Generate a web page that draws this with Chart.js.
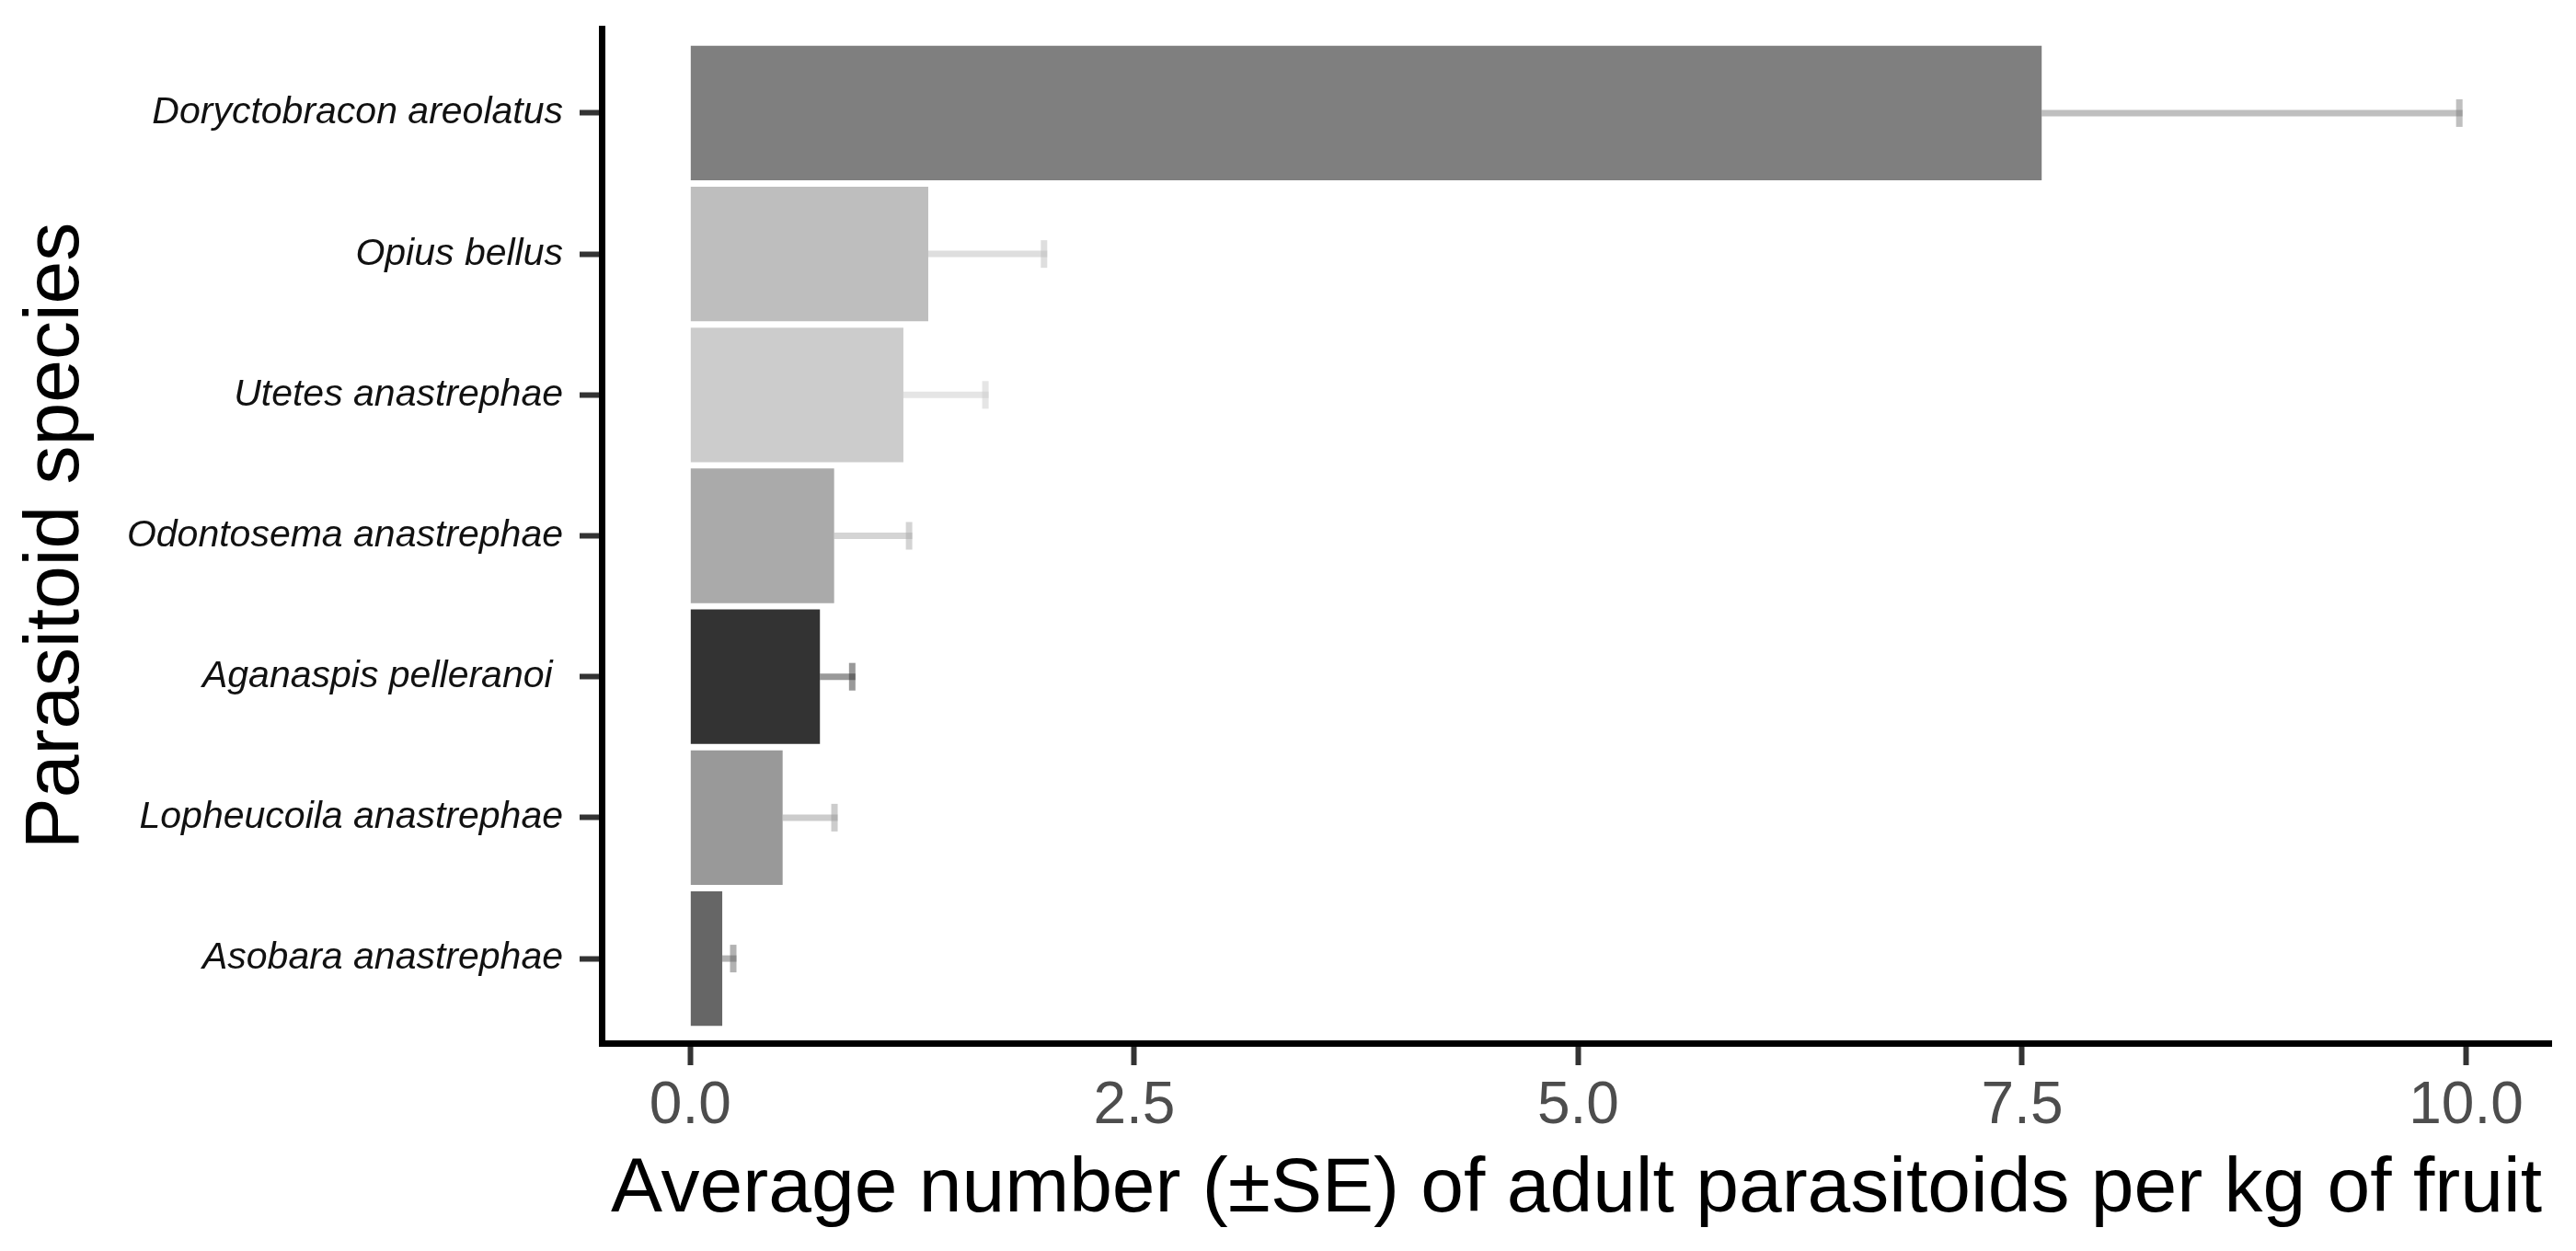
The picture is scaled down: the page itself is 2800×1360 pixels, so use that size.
<!DOCTYPE html>
<html>
<head>
<meta charset="utf-8">
<script src="https://cdn.jsdelivr.net/npm/chart.js@4.4.1/dist/chart.umd.min.js"></script>
<style>
  html, body { margin: 0; padding: 0; background: #ffffff; }
  #wrap { width: 2800px; height: 1360px; position: relative; }
</style>
</head>
<body>
<div id="wrap"><canvas id="parasitoidChart"></canvas></div>
<script>
// species, top to bottom as in the figure
const species = [
    'Doryctobracon areolatus',
    'Opius bellus',
    'Utetes anastrephae',
    'Odontosema anastrephae',
    'Aganaspis pelleranoi ',
    'Lopheucoila anastrephae',
    'Asobara anastrephae'
];
const means = [7.61, 1.34, 1.20, 0.81, 0.73, 0.52, 0.18];
const stdErr = [2.37, 0.67, 0.48, 0.44, 0.20, 0.31, 0.08];
const barColors = ['#7f7f7f', '#bebebe', '#cccccc', '#aaaaaa', '#333333', '#999999', '#666666'];
const xTicks = [0, 2.5, 5, 7.5, 10];

const FONT = "'Liberation Sans', Arial, Helvetica, sans-serif";

// hex -> rgba with alpha (errorbars are half-transparent versions of the bar fill)
function fade(hex, a) {
    const n = parseInt(hex.slice(1), 16);
    return `rgba(${(n >> 16) & 255}, ${(n >> 8) & 255}, ${n & 255}, ${a})`;
}

// simple errorbar plugin: line from mean to mean+SE with an end cap
const errorBars = {
    id: 'errorBars',
    beforeDatasetsDraw(chart) {
        const ctx = chart.ctx;
        const xs = chart.scales.x;
        const ys = chart.scales.y;
        ctx.save();
        ctx.lineWidth = 7;
        ctx.lineCap = 'butt';
        means.forEach((m, i) => {
            const y = ys.getPixelForValue(i);
            const x1 = xs.getPixelForValue(m);
            const x2 = xs.getPixelForValue(m + stdErr[i]);
            ctx.strokeStyle = fade(barColors[i], 0.5);
            ctx.beginPath();
            ctx.moveTo(x1, y);
            ctx.lineTo(x2, y);
            ctx.stroke();
            ctx.beginPath();
            ctx.moveTo(x2 - 3.5, y - 15);
            ctx.lineTo(x2 - 3.5, y + 15);
            ctx.stroke();
        });
        ctx.restore();
    }
};

const ctx = document.getElementById('parasitoidChart').getContext('2d');
const chart = new Chart(ctx, {
    type: 'bar',
    data: {
        datasets: [{
            data: means.map((m, i) => ({ x: m, y: i })),
            backgroundColor: barColors,
            borderWidth: 0,
            barPercentage: 0.955,
            categoryPercentage: 1
        }]
    },
    options: {
        indexAxis: 'y',
        responsive: true,
        maintainAspectRatio: false,
        devicePixelRatio: 1,
        animation: false,
        layout: {
            padding: { top: 31, right: 27, left: 0, bottom: 0 }
        },
        plugins: {
            legend: { display: false },
            tooltip: { enabled: false }
        },
        scales: {
            x: {
                type: 'linear',
                min: -0.499,
                max: 10.479,
                afterBuildTicks: scale => {
                    scale.ticks = xTicks.map(v => ({ value: v }));
                },
                afterFit: scale => {
                    scale.height = 226;
                    scale.paddingLeft = 0;
                    scale.paddingRight = 0;
                },
                grid: {
                    drawOnChartArea: false,
                    drawTicks: true,
                    tickLength: 24,
                    tickWidth: 6,
                    tickColor: '#333333',
                    color: '#333333'
                },
                border: { display: true, color: '#000000', width: 7 },
                ticks: {
                    color: '#4d4d4d',
                    padding: 7,
                    maxRotation: 0,
                    font: { family: FONT, size: 64 },
                    callback: v => Number(v).toFixed(1)
                },
                title: {
                    display: true,
                    text: 'Average number (±SE) of adult parasitoids per kg of fruit',
                    color: '#000000',
                    font: { family: FONT, size: 84 },
                    padding: { top: 0, bottom: 16 }
                }
            },
            y: {
                type: 'linear',
                reverse: true,
                offset: false,
                min: -0.6,
                max: 6.6,
                afterBuildTicks: scale => {
                    scale.ticks = species.map((_, i) => ({ value: i }));
                },
                afterFit: scale => {
                    scale.width = 654;
                    scale.paddingTop = 0;
                    scale.paddingBottom = 0;
                },
                grid: {
                    offset: false,
                    drawOnChartArea: false,
                    drawTicks: true,
                    tickLength: 24,
                    tickWidth: 6,
                    tickColor: '#333333',
                    color: '#333333'
                },
                border: { display: true, color: '#000000', width: 7 },
                ticks: {
                    color: '#111111',
                    padding: 18,
                    autoSkip: false,
                    font: { family: FONT, size: 41, style: 'italic' },
                    callback: v => species[v]
                },
                title: {
                    display: true,
                    text: 'Parasitoid species',
                    color: '#000000',
                    font: { family: FONT, size: 84 },
                    padding: { top: 11, bottom: 0 }
                }
            }
        }
    },
    plugins: [errorBars]
});
</script>
</body>
</html>
